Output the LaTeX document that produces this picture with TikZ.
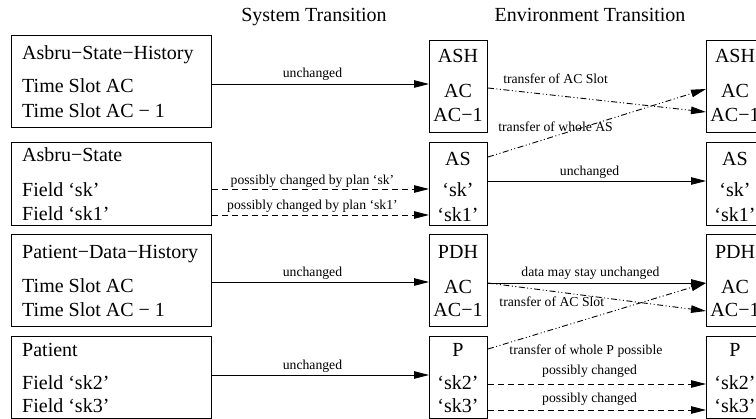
\documentclass[tikz,border=0pt]{standalone}
\usepackage{fontspec}
\setmainfont{Liberation Serif}
\usetikzlibrary{arrows.meta}
\newcommand{\boxsize}{\fontsize{20}{24}\selectfont}
\newcommand{\labelsize}{\fontsize{13.7}{16}\selectfont}

\begin{document}
\begin{tikzpicture}[x=1pt, y=-1pt,
    statebox/.style={rectangle, draw, line width=1pt, anchor=north west, minimum width=200pt, inner sep=0pt},
    slotbox/.style={rectangle, draw, line width=1pt, anchor=north west, minimum width=58pt, inner sep=0pt},
    txt/.style={anchor=base west, inner sep=0pt, font=\boxsize},
    ctxt/.style={anchor=base, inner sep=0pt, font=\boxsize},
    lbl/.style={anchor=base, inner sep=0pt, font=\labelsize},
    arrow/.style={-{Triangle[length=15pt, width=7.5pt]}, line width=0.9pt},
    maybe/.style={arrow, dash pattern=on 6pt off 4pt},
    transfer/.style={arrow, dash pattern=on 6pt off 2.5pt on 1pt off 2.5pt on 1pt off 2.5pt},
  ]
  \useasboundingbox (0,0) rectangle (756,419);
  \clip (0,0) rectangle (756,419);

  % column headings
  \node[ctxt] (systr) at (314,21.5) {System Transition};
  \node[ctxt] (envtr) at (590,21.5) {Environment Transition};

  % full state components
  \node[statebox, minimum height=92pt] (lash) at (11,35) {};
  \node[txt] (lasht) at (22,60) {Asbru−State−History};
  \node[txt] (lash1) at (22,93) {Time Slot AC};
  \node[txt] (lash2) at (22,118) {Time Slot AC − 1};

  \node[statebox, minimum height=83pt] (las) at (11,142) {};
  \node[txt] (last) at (22,162) {Asbru−State};
  \node[txt] (las1) at (22,197) {Field ‘sk’};
  \node[txt] (las2) at (22,221) {Field ‘sk1’};

  \node[statebox, minimum height=92pt] (lpdh) at (11,234) {};
  \node[txt] (lpdht) at (22,259) {Patient−Data−History};
  \node[txt] (lpdh1) at (22,293) {Time Slot AC};
  \node[txt] (lpdh2) at (22,317) {Time Slot AC − 1};

  \node[statebox, minimum height=82pt] (lp) at (11,336) {};
  \node[txt] (lpt) at (22,357) {Patient};
  \node[txt] (lp1) at (22,390) {Field ‘sk2’};
  \node[txt] (lp2) at (22,413) {Field ‘sk3’};

  % short forms after each transition
  \foreach \col/\x in {m/429, r/706} {
    \node[slotbox, minimum height=92pt] (\col ash) at (\x,40) {};
    \node[ctxt] (\col asht) at (\x+29,63) {ASH};
    \node[ctxt] (\col ash1) at (\x+29,98) {AC};
    \node[ctxt] (\col ash2) at (\x+29,122) {AC−1};

    \node[slotbox, minimum height=83pt] (\col as) at (\x,142) {};
    \node[ctxt] (\col ast) at (\x+29,166) {AS};
    \node[ctxt] (\col as1) at (\x+29,197) {‘sk’};
    \node[ctxt] (\col as2) at (\x+29,222) {‘sk1’};

    \node[slotbox, minimum height=92pt] (\col pdh) at (\x,234) {};
    \node[ctxt] (\col pdht) at (\x+29,259) {PDH};
    \node[ctxt] (\col pdh1) at (\x+29,294) {AC};
    \node[ctxt] (\col pdh2) at (\x+29,317) {AC−1};

    \node[slotbox, minimum height=82pt] (\col p) at (\x,336) {};
    \node[ctxt] (\col pt) at (\x+29,357) {P};
    \node[ctxt] (\col p1) at (\x+29,390) {‘sk2’};
    \node[ctxt] (\col p2) at (\x+29,413) {‘sk3’};
  }

  % system transition
  \draw[arrow] ([yshift=-49pt]lash.north east) -- node[lbl, pos=0.463, yshift=6pt] (s1) {unchanged} ([yshift=-44pt]mash.north west);
  \draw[maybe] ([yshift=-47pt]las.north east) -- node[lbl, pos=0.463, yshift=4pt] (s2) {possibly changed by plan ‘sk’} ([yshift=-47pt]mas.north west);
  \draw[maybe] ([yshift=-73pt]las.north east) -- node[lbl, pos=0.463, yshift=5pt] (s3) {possibly changed by plan ‘sk1’} ([yshift=-73pt]mas.north west);
  \draw[arrow] ([yshift=-48pt]lpdh.north east) -- node[lbl, pos=0.463, yshift=5pt] (s4) {unchanged} ([yshift=-48pt]mpdh.north west);
  \draw[arrow] ([yshift=-39pt]lp.north east) -- node[lbl, pos=0.463, yshift=5pt] (s5) {unchanged} ([yshift=-39pt]mp.north west);

  % environment transition
  \draw[transfer] ([yshift=-48pt]mash.north east) -- node[lbl, pos=0.31, yshift=12pt] (e1) {transfer of AC Slot} ([yshift=-72pt]rash.north west);
  \draw[transfer] ([yshift=-15pt]mas.north east) -- node[lbl, pos=0.31, yshift=4pt] (e2) {transfer of whole AS} ([yshift=-49pt]rash.north west);
  \draw[arrow] ([yshift=-39pt]mas.north east) -- node[lbl, pos=0.466, yshift=5pt] (e3) {unchanged} ([yshift=-39pt]ras.north west);
  \draw[arrow] ([yshift=-49pt]mpdh.north east) -- node[lbl, pos=0.47, yshift=6pt] (e4) {data may stay unchanged} ([yshift=-49pt]rpdh.north west);
  \draw[transfer] ([yshift=-49pt]mpdh.north east) -- node[lbl, pos=0, anchor=base west, xshift=11pt, yshift=-24pt] (e5) {transfer of AC Slot} ([yshift=-77pt]rpdh.north west);
  \draw[transfer] ([yshift=-13pt]mp.north east) -- node[lbl, pos=0, anchor=base west, xshift=21pt, yshift=-6pt] (e6) {transfer of whole P possible} ([yshift=-49pt]rpdh.north west);
  \draw[maybe] ([yshift=-48pt]mp.north east) -- node[lbl, pos=0.466, yshift=9pt] (e7) {possibly changed} ([yshift=-48pt]rp.north west);
  \draw[maybe] ([yshift=-74pt]mp.north east) -- node[lbl, pos=0.466, yshift=7pt] (e8) {possibly changed} ([yshift=-74pt]rp.north west);
\end{tikzpicture}
\end{document}
